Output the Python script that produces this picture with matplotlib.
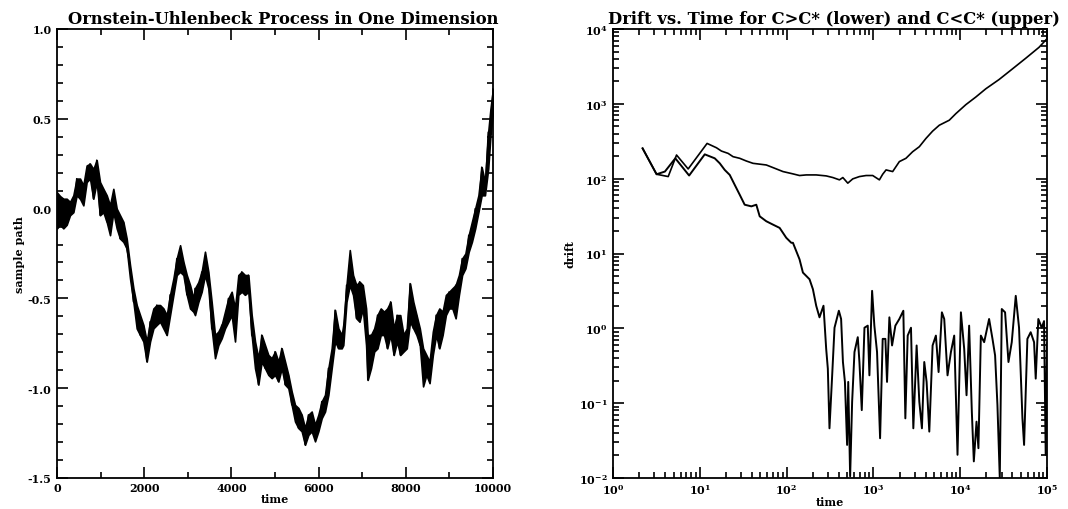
import numpy as np
import matplotlib
matplotlib.use("Agg")
import matplotlib.pyplot as plt
from matplotlib.ticker import MultipleLocator, FormatStrFormatter, LogLocator, NullFormatter

DPI = 100

# --- left panel: OU sample path, read as band (upper / lower edge) ---
ou_time = [0, 69, 145, 222, 298, 375, 451, 528, 604, 680, 757, 833, 910, 986,
           1063, 1140, 1216, 1292, 1369, 1445, 1522, 1598, 1675, 1752, 1828,
           1905, 1981, 2058, 2134, 2211, 2287, 2364, 2440, 2517, 2593, 2670,
           2746, 2823, 2899, 2976, 3052, 3129,
           3165, 3241, 3318, 3394, 3471, 3547, 3624, 3700, 3777, 3853, 3930,
           4006, 4083, 4159, 4236, 4312, 4389, 4465, 4542, 4618, 4694, 4771,
           4847, 4924, 5000, 5077, 5153, 5230, 5306, 5383, 5459, 5536, 5612,
           5689, 5765, 5841, 5918, 5994, 6071, 6147, 6224, 6300, 6377, 6453,
           6530,
           6566, 6640, 6715, 6790, 6865, 6939, 7014, 7089, 7126, 7201, 7275,
           7350, 7425, 7500, 7574, 7649, 7724, 7798, 7873, 7948, 8022, 8097,
           8172, 8246, 8321, 8396, 8471, 8545, 8620, 8695, 8769, 8844, 8919,
           8993, 9068, 9143, 9218, 9292, 9367, 9442, 9516, 9591, 9666, 9740,
           9815, 9890, 9942, 10000]
ou_high = [0.09, 0.07, 0.055, 0.055, 0.037, 0.074, 0.167, 0.167, 0.13, 0.24,
           0.25, 0.22, 0.27, 0.148, 0.11, 0.074, 0.018, 0.11, 0.0, -0.037,
           -0.074, -0.167, -0.315, -0.444, -0.537, -0.593, -0.648, -0.74,
           -0.63, -0.556, -0.537, -0.537, -0.556, -0.593, -0.48, -0.389,
           -0.278, -0.204, -0.296, -0.37, -0.426, -0.5,
           -0.444, -0.41, -0.352, -0.24, -0.352, -0.52, -0.704, -0.685,
           -0.648, -0.574, -0.5, -0.463, -0.556, -0.37, -0.352, -0.37, -0.37,
           -0.593, -0.74, -0.833, -0.704, -0.76, -0.815, -0.833, -0.796,
           -0.852, -0.778, -0.852, -0.926, -1.019, -1.093, -1.11, -1.148,
           -1.222, -1.148, -1.13, -1.204, -1.148, -1.074, -1.037, -0.889,
           -0.778, -0.565, -0.667, -0.704,
           -0.648, -0.426, -0.231, -0.37, -0.426, -0.407, -0.426, -0.556,
           -0.704, -0.704, -0.667, -0.593, -0.556, -0.574, -0.556, -0.519,
           -0.667, -0.593, -0.593, -0.704, -0.667, -0.417, -0.519, -0.593,
           -0.667, -0.778, -0.815, -0.852, -0.685, -0.593, -0.556, -0.574,
           -0.481, -0.463, -0.444, -0.426, -0.37, -0.278, -0.25, -0.148,
           -0.074, 0.0, 0.074, 0.231, 0.148, 0.426, 0.556, 0.667]
ou_low = [-0.11, -0.09, -0.11, -0.09, -0.037, -0.02, 0.074, 0.055, 0.018,
          0.148, 0.167, 0.055, 0.148, -0.037, -0.02, -0.074, -0.148, -0.02,
          -0.11, -0.167, -0.185, -0.222, -0.389, -0.519, -0.667, -0.704,
          -0.74, -0.852, -0.74, -0.667, -0.648, -0.63, -0.667, -0.704, -0.593,
          -0.48, -0.37, -0.352, -0.37, -0.48, -0.556, -0.574,
          -0.593, -0.52, -0.463, -0.37, -0.444, -0.667, -0.833, -0.76, -0.722,
          -0.667, -0.63, -0.593, -0.74, -0.48, -0.463, -0.48, -0.463, -0.704,
          -0.889, -0.98, -0.852, -0.889, -0.926, -0.944, -0.926, -0.963,
          -0.889, -0.98, -1.0, -1.093, -1.185, -1.222, -1.24, -1.315, -1.26,
          -1.24, -1.296, -1.24, -1.167, -1.13, -1.037, -0.889, -0.74, -0.778,
          -0.778,
          -0.76, -0.519, -0.426, -0.481, -0.611, -0.63, -0.556, -0.76, -0.954,
          -0.889, -0.796, -0.778, -0.704, -0.704, -0.778, -0.704, -0.815,
          -0.74, -0.815, -0.796, -0.778, -0.63, -0.667, -0.704, -0.759, -0.99,
          -0.926, -0.972, -0.815, -0.704, -0.778, -0.704, -0.593, -0.556,
          -0.556, -0.611, -0.481, -0.37, -0.333, -0.241, -0.185, -0.111,
          -0.019, 0.074, 0.074, 0.222, 0.407, 0.537]

# --- right panel: drift vs time, values stored as log10 ---
upper_log_t = [0.341, 0.502, 0.636, 0.732, 0.866, 1.084, 1.192, 1.249, 1.326,
               1.383, 1.460, 1.536, 1.613, 1.766, 1.843, 1.958, 2.073, 2.149,
               2.226, 2.341, 2.456, 2.533, 2.609, 2.648, 2.705, 2.762, 2.839,
               2.916, 2.992, 3.069, 3.107, 3.146, 3.222, 3.299, 3.375, 3.452,
               3.529, 3.605, 3.682, 3.759, 3.874, 3.950, 4.065, 4.180, 4.295,
               4.448, 4.602, 4.755, 4.908, 5.0]
upper_log_d = [2.405, 2.059, 2.028, 2.316, 2.130, 2.471, 2.413, 2.369, 2.338,
               2.294, 2.272, 2.236, 2.205, 2.183, 2.148, 2.095, 2.064, 2.042,
               2.050, 2.050, 2.037, 2.015, 1.984, 2.015, 1.940, 1.997, 2.028,
               2.042, 2.042, 1.984, 2.059, 2.117, 2.095, 2.228, 2.272, 2.360,
               2.427, 2.537, 2.635, 2.714, 2.781, 2.869, 2.989, 3.091, 3.201,
               3.325, 3.467, 3.609, 3.755, 3.870]

lower_log_t = [0.341, 0.502, 0.598, 0.718, 0.877, 1.057, 1.172, 1.230, 1.287,
               1.345, 1.402, 1.460, 1.517, 1.594, 1.651, 1.690, 1.766, 1.843,
               1.920, 1.996, 2.054, 2.073, 2.149, 2.188, 2.264, 2.303, 2.341,
               2.379, 2.425, 2.456, 2.475, 2.494, 2.525, 2.552, 2.602, 2.628,
               2.649, 2.672, 2.697, 2.710, 2.732, 2.755, 2.782, 2.820, 2.839,
               2.866, 2.897, 2.935, 2.954, 2.985, 3.011, 3.042, 3.077, 3.107,
               3.138, 3.157, 3.184, 3.215, 3.253, 3.299, 3.345, 3.368, 3.395,
               3.433, 3.460, 3.498, 3.529, 3.559, 3.586, 3.613, 3.644, 3.682,
               3.720, 3.751, 3.789, 3.816, 3.854, 3.893, 3.931, 3.969, 4.008,
               4.046, 4.073, 4.103, 4.134, 4.157, 4.188, 4.210, 4.238, 4.276,
               4.333, 4.372, 4.402, 4.429, 4.456, 4.479, 4.517, 4.556, 4.594,
               4.640, 4.678, 4.717, 4.736, 4.774, 4.812, 4.851, 4.870, 4.900,
               4.939, 4.966, 4.985, 5.0]
lower_log_d = [2.405, 2.059, 2.095, 2.272, 2.042, 2.325, 2.272, 2.205, 2.117,
               2.050, 1.918, 1.785, 1.652, 1.630, 1.652, 1.497, 1.431, 1.386,
               1.342, 1.210, 1.143, 1.143, 0.922, 0.745, 0.656, 0.523, 0.302,
               0.147, 0.302, -0.274, -0.539, -1.336, -0.628, 0.008, 0.235,
               0.125, -0.450, -0.716, -1.558, -0.716, -1.977, -0.981, -0.317,
               -0.118, -0.450, -1.093, 0.008, 0.036, -0.628, 0.501, 0.036,
               -0.317, -1.469, -0.141, -0.141, -0.716, 0.147, -0.229, 0.036,
               0.125, 0.235, -1.203, -0.097, 0.008, -1.336, -0.229, -0.981,
               -1.336, -0.450, -0.716, -1.380, -0.229, -0.097, -0.584, 0.214,
               0.125, -0.628, -0.317, -0.097, -1.690, 0.214, -0.274, -0.894,
               0.036, -1.114, -1.778, -1.247, -1.602, -0.097, -0.185, 0.125,
               -0.141, -0.362, -1.026, -2.000, 0.258, 0.214, -0.450, -0.185,
               0.434, 0.008, -1.203, -1.558, -0.141, -0.052, -0.185, -0.672,
               0.125, 0.008, 0.097, -1.690, -0.2]

plt.rcParams['font.family'] = ['DejaVu Serif']
plt.rcParams['font.weight'] = 'bold'
plt.rcParams['mathtext.default'] = 'bf'
plt.rcParams['axes.unicode_minus'] = False

fig = plt.figure(figsize=(1068 / DPI, 510 / DPI), dpi=DPI)
ax1 = fig.add_axes([57 / 1068, 31 / 510, 436 / 1068, 449 / 510])
ax2 = fig.add_axes([613 / 1068, 31 / 510, 434 / 1068, 449 / 510])

# left
t = np.array(ou_time)
hi = np.array(ou_high)
lo = np.array(ou_low)
ax1.fill_between(t, lo, hi, color='k', lw=1.2)
zig = np.where(np.arange(len(t)) % 2 == 0, hi, lo)
ax1.plot(t, zig, c='k', lw=1.0)
ax1.set_xlim(0, 10000)
ax1.set_ylim(-1.5, 1.0)
ax1.xaxis.set_major_locator(MultipleLocator(2000))
ax1.xaxis.set_minor_locator(MultipleLocator(1000))
ax1.yaxis.set_major_locator(MultipleLocator(0.5))
ax1.yaxis.set_minor_locator(MultipleLocator(0.1))
ax1.yaxis.set_major_formatter(FormatStrFormatter('%.1f'))
ax1.set_title('Ornstein-Uhlenbeck Process in One Dimension', fontsize=11.8,
              fontweight='bold', pad=4, x=0.52)
ax1.set_xlabel('time', fontsize=8, fontweight='bold', labelpad=0)
ax1.set_ylabel('sample path', fontsize=8, fontweight='bold', labelpad=2)

# right
ax2.plot(10 ** np.array(upper_log_t), 10 ** np.array(upper_log_d), c='k', lw=1.2)
ax2.plot(10 ** np.array(lower_log_t), 10 ** np.array(lower_log_d), c='k', lw=1.4)
ax2.set_xscale('log')
ax2.set_yscale('log')
ax2.set_xlim(1, 1e5)
ax2.set_ylim(1e-2, 1e4)
for axis in (ax2.xaxis, ax2.yaxis):
    axis.set_major_locator(LogLocator(base=10, numticks=10))
    axis.set_minor_locator(LogLocator(base=10, subs=np.arange(2, 10), numticks=10))
    axis.set_minor_formatter(NullFormatter())
ax2.set_title('Drift vs. Time for C>C* (lower) and C<C* (upper)', fontsize=11.8,
              fontweight='bold', pad=4, x=0.51)
ax2.set_xlabel('time', fontsize=8, fontweight='bold', labelpad=0)
ax2.set_ylabel('drift', fontsize=8, fontweight='bold', labelpad=2)

for ax in (ax1, ax2):
    ax.tick_params(which='both', direction='in', top=True, right=True,
                   labelsize=8, width=1.2)
    ax.tick_params(which='major', length=8)
    ax.tick_params(which='minor', length=4)
    ax.tick_params(axis='x', which='both', pad=3)
    ax.tick_params(axis='y', which='both', pad=4)
    for s in ax.spines.values():
        s.set_linewidth(1.3)

fig.savefig('out.png', dpi=DPI)
